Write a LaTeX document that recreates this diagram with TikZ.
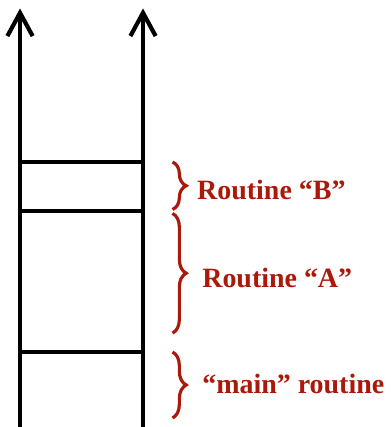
\documentclass[tikz,border=0pt]{standalone}
\usepackage{fontspec}
\setmainfont{Liberation Serif}
\usetikzlibrary{arrows.meta, positioning, decorations.pathreplacing}
\definecolor{stackred}{RGB}{170,25,10}
\tikzset{
  rail/.style={line width=4pt, color=black, -{Straight Barb[length=22pt, width=24pt]}},
  frame/.style={line width=3.6pt, color=black},
  framebrace/.style={decorate, decoration={brace, amplitude=13pt},
    line width=3pt, color=stackred},
  framelabel/.style={anchor=west, text=stackred,
    font=\fontsize{26.5}{30}\selectfont\bfseries}
}

\begin{document}
\begin{tikzpicture}
  \useasboundingbox (0,0) rectangle (13,14.233);

  % Stack rails
  \coordinate (lbot) at (0.667,0);
  \coordinate (rbot) at (4.767,0);
  \coordinate (ltop) at (0.667,13.95);
  \coordinate (rtop) at (4.767,13.95);
  \draw[rail] (lbot) -- (ltop);
  \draw[rail] (rbot) -- (rtop);

  % Frame boundaries
  \coordinate (l1) at (0.667,2.5);   \coordinate (r1) at (4.767,2.5);
  \coordinate (l2) at (0.667,7.2);   \coordinate (r2) at (4.767,7.2);
  \coordinate (l3) at (0.667,8.833); \coordinate (r3) at (4.767,8.833);
  \draw[frame] (l1) -- (r1);
  \draw[frame] (l2) -- (r2);
  \draw[frame] (l3) -- (r3);

  % Braces
  \coordinate (b1top) at (5.75,8.833);
  \coordinate (b1bot) at (5.75,7.25);
  \coordinate (b2top) at (5.75,7.12);
  \coordinate (b2bot) at (5.75,3.13);
  \coordinate (b3top) at (5.75,2.5);
  \coordinate (b3bot) at (5.75,0.3);
  \draw[framebrace] (b1top) -- (b1bot);
  \draw[framebrace] (b2top) -- (b2bot);
  \draw[framebrace] (b3top) -- (b3bot);

  % Labels
  \node[framelabel] (routineb) at (6.45,7.9) {Routine “B”};
  \node[framelabel] (routinea) at (6.62,4.97) {Routine “A”};
  \node[framelabel] (mainr) at (6.62,1.45) {“main” routine};
\end{tikzpicture}
\end{document}
